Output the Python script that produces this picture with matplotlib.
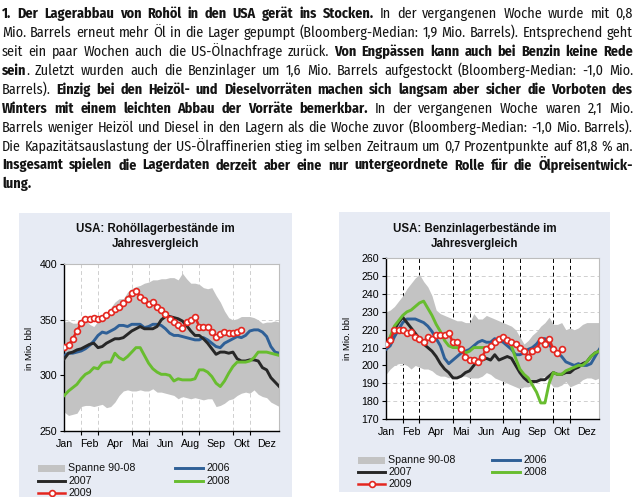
import numpy as np
import matplotlib
matplotlib.use('Agg')
import matplotlib.pyplot as plt
from matplotlib.lines import Line2D
from matplotlib.patches import Rectangle
from matplotlib import font_manager

# =========================
# Daten (Wochenwerte, in Mio. bbl)
# =========================

months = ['Jan', 'Feb', 'Apr', 'Mai', 'Jun', 'Aug', 'Sep', 'Okt', 'Dez']

crude_lo = [267, 264, 265, 266, 272, 273, 273, 272, 273, 274, 271, 272, 276, 282, 286, 287, 286, 286,
            287, 286, 286, 288, 285, 285, 284, 283, 282, 279, 281, 280, 279, 280, 279, 278, 279, 279,
            272, 273, 275, 278, 279, 282, 284, 285, 284, 287, 283, 281, 280, 276, 274, 272]
crude_hi = [348, 349, 347, 347, 348, 350, 346, 344, 349, 351, 356, 361, 366, 369, 369, 375, 378, 380,
            381, 383, 384, 386, 386, 387, 387, 388, 388, 386, 392, 387, 383, 383, 382, 379, 378, 379,
            372, 366, 358, 352, 350, 351, 353, 353, 353, 352, 350, 347, 348, 348, 349, 348]
crude_2006 = [318, 320, 320, 321, 322, 324, 327, 331, 336, 339, 338, 340, 342, 345, 345, 344, 346, 346,
              346, 343, 344, 346, 346, 345, 342, 338, 336, 336, 335, 334, 333, 332, 332, 334, 332, 329,
              326, 325, 329, 331, 333, 335, 334, 336, 340, 341, 341, 339, 335, 326, 321, 320]
crude_2007 = [315, 320, 321, 323, 324, 326, 328, 329, 325, 326, 329, 331, 333, 333, 334, 337, 340, 342,
              344, 342, 342, 342, 344, 350, 353, 353, 352, 351, 349, 345, 340, 336, 336, 333, 329, 324,
              319, 321, 321, 320, 321, 315, 313, 313, 314, 314, 313, 307, 305, 298, 294, 290]
crude_2008 = [282, 286, 289, 292, 297, 301, 303, 307, 306, 311, 312, 312, 320, 316, 314, 317, 321, 325,
              325, 318, 311, 306, 303, 301, 301, 300, 295, 297, 296, 296, 296, 297, 305, 305, 303, 299,
              293, 290, 295, 302, 308, 312, 312, 312, 313, 316, 321, 321, 321, 320, 319, 318]
crude_2009 = [326, 327, 333, 340, 347, 351, 351, 352, 351, 352, 354, 357, 360, 362, 365, 369, 374, 376,
              371, 368, 364, 366, 362, 359, 355, 351, 348, 345, 343, 348, 350, 353, 344, 344, 344, 339,
              335, 337, 339, 338, 338, 339, 341]

gas_lo = [195, 198, 200, 201, 201, 200, 198, 200, 199, 198, 198, 197, 195, 194, 194, 193, 194, 194,
          194, 194, 193, 193, 193, 194, 196, 195, 193, 192, 191, 190, 189, 188, 187, 188, 188, 189,
          191, 193, 194, 191, 188, 188, 189, 191, 188, 189, 190, 192, 193, 193, 192, 193]
gas_hi = [230, 231, 233, 236, 239, 243, 246, 249, 251, 247, 244, 239, 231, 229, 228, 227, 226, 225,
          225, 224, 224, 229, 226, 226, 228, 227, 226, 225, 224, 223, 222, 220, 216, 212, 214, 217,
          219, 222, 224, 227, 223, 223, 224, 220, 221, 220, 221, 223, 224, 224, 224, 224]
gas_2006 = [209, 211, 216, 220, 224, 226, 226, 226, 225, 224, 222, 219, 215, 211, 204, 201, 203, 205,
            207, 208, 209, 211, 213, 214, 213, 213, 215, 214, 213, 211, 209, 206, 206, 207, 209, 210,
            212, 215, 215, 212, 208, 207, 205, 202, 201, 200, 201, 200, 200, 201, 205, 209]
gas_2007 = [211, 215, 220, 224, 227, 224, 221, 218, 215, 212, 210, 208, 205, 201, 198, 196, 193, 193,
            194, 196, 197, 200, 203, 203, 204, 203, 206, 203, 204, 205, 204, 200, 196, 193, 191, 191,
            191, 192, 192, 194, 196, 195, 195, 196, 196, 198, 199, 201, 202, 205, 207, 208]
gas_2008 = [211, 216, 222, 225, 228, 230, 231, 233, 235, 236, 232, 228, 223, 219, 214, 211, 210, 210,
            209, 207, 208, 210, 210, 210, 210, 211, 213, 214, 216, 215, 211, 204, 198, 195, 193, 189,
            185, 179, 179, 190, 196, 195, 195, 197, 198, 199, 200, 200, 202, 205, 207, 208]
gas_2009 = [212, 214, 220, 220, 220, 218, 219, 216, 215, 213, 216, 215, 217, 217, 217, 218, 213, 213,
            209, 205, 203, 203, 202, 205, 209, 211, 213, 215, 216, 214, 213, 212, 210, 208, 205, 208,
            209, 214, 212, 215, 209, 207, 209]

# Fliesstext, Zeile fuer Zeile: (Text, fett)
para = [
    [("1.  Der Lagerabbau von Rohöl in den USA gerät ins Stocken.", True),
     (" In der vergangenen Woche wurde mit 0,8", False)],
    [("Mio. Barrels erneut mehr Öl in die Lager gepumpt (Bloomberg-Median: 1,9 Mio. Barrels). Entsprechend geht", False)],
    [("seit ein paar Wochen auch die US-Ölnachfrage zurück. ", False),
     ("Von Engpässen kann auch bei Benzin keine Rede", True)],
    [("sein", True),
     (". Zuletzt wurden auch die Benzinlager um 1,6 Mio. Barrels aufgestockt (Bloomberg-Median: -1,0 Mio.", False)],
    [("Barrels). ", False),
     ("Einzig bei den Heizöl- und Dieselvorräten machen sich langsam aber sicher die Vorboten des", True)],
    [("Winters mit einem leichten Abbau der Vorräte bemerkbar.", True),
     (" In der vergangenen Woche waren 2,1 Mio.", False)],
    [("Barrels weniger Heizöl und Diesel in den Lagern als die Woche zuvor (Bloomberg-Median: -1,0 Mio. Barrels).", False)],
    [("Die Kapazitätsauslastung der US-Ölraffinerien stieg im selben Zeitraum um 0,7 Prozentpunkte auf 81,8 % an.", False)],
    [("Insgesamt spielen die Lagerdaten derzeit aber eine nur untergeordnete Rolle für die Ölpreisentwick-", True)],
    [("lung.", True)],
]

# =========================
# Stil
# =========================

W, H = 635, 497
PANEL = '#E7EBF4'
BAND = '#C3C3C3'
BLUE = '#2F6097'
BLACK = '#272727'
GREEN = '#68BD2F'
RED = '#E4261F'
CHART_FONT = 'Liberation Sans'

names = {f.name for f in font_manager.fontManager.ttflist}
BODY_FONT = 'Roboto'
for cand in ['Fira Sans Condensed', 'IBM Plex Sans Condensed', 'Liberation Sans Narrow']:
    if cand in names:
        BODY_FONT = cand
        break


def fx(x):
    return x / W


def fy(y):
    return 1 - y / H


fig = plt.figure(figsize=(W / 100, H / 100), dpi=100)
fig.patch.set_facecolor('white')
renderer = fig.canvas.get_renderer()

# =========================
# Fliesstext (Blocksatz)
# =========================


def split_words(segs):
    words = []
    new = True
    for txt, bold in segs:
        parts = txt.split(' ')
        for i, p in enumerate(parts):
            if i > 0:
                new = True
            if p == '':
                continue
            if new or not words:
                words.append([(p, bold)])
                new = False
            else:
                words[-1].append((p, bold))
    return words


def make_texts(words, size):
    out = []
    for word in words:
        pieces = []
        for p, bold in word:
            t = fig.text(0, 0, p, fontsize=size, family=BODY_FONT,
                         weight='bold' if bold else 'normal', color='#141414',
                         ha='left', va='baseline')
            w = t.get_window_extent(renderer).width
            pieces.append((t, w))
        out.append(pieces)
    return out


def space_width(size):
    a = fig.text(0, 0, 'n n', fontsize=size, family=BODY_FONT)
    b = fig.text(0, 0, 'nn', fontsize=size, family=BODY_FONT)
    sw = a.get_window_extent(renderer).width - b.get_window_extent(renderer).width
    a.remove()
    b.remove()
    return sw


X0, X1 = 2, 633
line_words = [split_words(s) for s in para]

# Schriftgroesse so waehlen, dass die laengste Zeile gerade passt
size = 11.0
sw = space_width(size)
widest = 0
for words in line_words:
    tx = make_texts(words, size)
    total = sum(w for pcs in tx for _, w in pcs) + sw * (len(words) - 1)
    widest = max(widest, total)
    for pcs in tx:
        for t, _ in pcs:
            t.remove()
size = min(12.5, size * (X1 - X0) * 0.99 / widest)
sw = space_width(size)

for i, words in enumerate(line_words):
    tx = make_texts(words, size)
    ink = sum(w for pcs in tx for _, w in pcs)
    last = (i == len(line_words) - 1)
    gap = sw if (last or len(words) < 2) else ((X1 - X0) - ink) / (len(words) - 1)
    x = X0
    yb = 18.3 + 18.9 * i
    for pcs in tx:
        for t, w in pcs:
            t.set_position((fx(x), fy(yb)))
            x += w
        x += gap

# =========================
# Diagramme
# =========================

fig.add_artist(Rectangle((fx(19), fy(497)), (292 - 19) / W, (497 - 213) / H,
                         transform=fig.transFigure, facecolor=PANEL, edgecolor='none', zorder=-2))
fig.add_artist(Rectangle((fx(339), fy(492)), (610 - 339) / W, (492 - 212) / H,
                         transform=fig.transFigure, facecolor=PANEL, edgecolor='none', zorder=-2))


def draw_chart(ax, lo, hi, s06, s07, s08, s09, ylim, yticks, vgrid, hgrid_vals):
    weeks = np.arange(len(lo))
    ax.set_facecolor('white')
    ax.fill_between(weeks, lo, hi, color=BAND, lw=0, zorder=1)
    ax.plot(weeks, s06, color=BLUE, lw=2.1, zorder=3)
    ax.plot(weeks, s07, color=BLACK, lw=2.1, zorder=3)
    ax.plot(weeks, s08, color=GREEN, lw=2.1, zorder=3)
    ax.plot(np.arange(len(s09)), s09, color=RED, lw=1.8, marker='o', ms=4.2,
            mfc='white', mec=RED, mew=1.2, zorder=5)

    ax.set_xlim(0, len(lo) - 1)
    ax.set_ylim(*ylim)
    ax.set_yticks(yticks)
    ax.set_xticks(np.arange(0, 52, 6))
    ax.set_xticklabels(months)
    ax.set_xticks(np.arange(0, 52, 4), minor=True)
    ax.tick_params(axis='x', which='major', length=0, pad=6, labelsize=7.7)
    ax.tick_params(axis='x', which='minor', length=3, width=0.8, direction='out')
    ax.tick_params(axis='y', length=3, width=0.8, labelsize=7.7, pad=2)
    for lab in ax.get_xticklabels() + ax.get_yticklabels():
        lab.set_family(CHART_FONT)

    ax.set_axisbelow(True)
    ax.grid(which='minor', axis='x', ls=(0, (4, 3)), color=vgrid, lw=0.7)
    for v in hgrid_vals:
        ax.axhline(v, ls=(0, (4, 3)), color='#D0D0D0', lw=0.7, zorder=0.5)

    for s in ['top', 'right']:
        ax.spines[s].set_color('#BDBDBD')
        ax.spines[s].set_linewidth(0.8)
    for s in ['left', 'bottom']:
        ax.spines[s].set_color('black')
        ax.spines[s].set_linewidth(1.0)


ax1 = fig.add_axes([fx(64.3), fy(431), 215 / W, (431 - 264.3) / H])
draw_chart(ax1, crude_lo, crude_hi, crude_2006, crude_2007, crude_2008, crude_2009,
           (250, 400), [250, 300, 350, 400], '#CFCFCF', [300, 350])

ax2 = fig.add_axes([fx(386), fy(419), 213.3 / W, (419 - 258.3) / H])
draw_chart(ax2, gas_lo, gas_hi, gas_2006, gas_2007, gas_2008, gas_2009,
           (170, 260), np.arange(170, 261, 10), 'black', np.arange(180, 260, 10))

# Titel und Achsenbeschriftung
for cx, y1, y2, t1 in [(155.5, 229, 243.5, 'USA: Rohöllagerbestände im'),
                       (475, 229, 243.5, 'USA: Benzinlagerbestände im')]:
    fig.text(fx(cx), fy(y1), t1, ha='center', va='center', fontsize=8.3,
             weight='bold', family=CHART_FONT, color='#111111')
    fig.text(fx(cx), fy(y2), 'Jahresvergleich', ha='center', va='center', fontsize=8.3,
             weight='bold', family=CHART_FONT, color='#111111')

fig.text(fx(30), fy(348), 'in Mio. bbl', rotation=90, ha='center', va='center',
         fontsize=6.8, family=CHART_FONT)
fig.text(fx(347), fy(338), 'in Mio. bbl', rotation=90, ha='center', va='center',
         fontsize=6.8, family=CHART_FONT)

# =========================
# Legenden
# =========================


def legend_item(x0, x1, y, kind, color, label):
    if kind == 'band':
        fig.add_artist(Rectangle((fx(x0), fy(y + 3.5)), (x1 - x0) / W, 7 / H,
                                 transform=fig.transFigure, facecolor=BAND, edgecolor='none'))
    else:
        fig.add_artist(Line2D([fx(x0), fx(x1)], [fy(y), fy(y)], transform=fig.transFigure,
                              color=color, lw=2.1 if kind == 'line' else 1.8))
        if kind == 'marker':
            fig.add_artist(Line2D([fx((x0 + x1) / 2)], [fy(y)], transform=fig.transFigure,
                                  color=color, marker='o', ms=4.2, mfc='white', mec=color, mew=1.2))
    fig.text(fx(x1 + 3.5), fy(y), label, ha='left', va='center', fontsize=7.7,
             family=CHART_FONT, color='#111111')


for (ax0, ax1_, bx0, bx1, r1, dy) in [(38, 65, 175, 203, 468, 12.5), (358, 385, 492, 520, 460, 12)]:
    legend_item(ax0, ax1_, r1, 'band', BAND, 'Spanne 90-08')
    legend_item(bx0, bx1, r1, 'line', BLUE, '2006')
    legend_item(ax0, ax1_, r1 + dy, 'line', BLACK, '2007')
    legend_item(bx0, bx1, r1 + dy, 'line', GREEN, '2008')
    legend_item(ax0, ax1_, r1 + 2 * dy, 'marker', RED, '2009')

fig.savefig('out.png', dpi=100)
